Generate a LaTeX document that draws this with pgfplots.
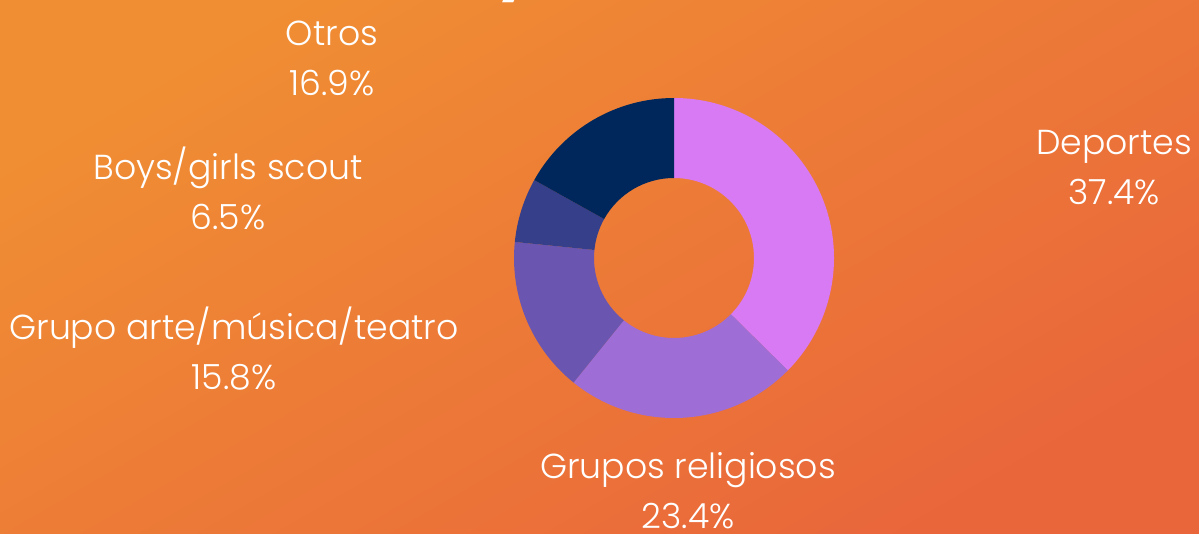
\documentclass[border=0pt]{standalone}
\usepackage{pgfplots}
\pgfplotsset{compat=1.18}
\usepackage{pgfplotstable}
\usepackage{fontspec}
\setmainfont{Poppins Light}[BoldFont=Poppins Bold]

\definecolor{bgA}{HTML}{F08E33}
\definecolor{bgB}{HTML}{E9663B}
\definecolor{c0}{HTML}{D87AF4}
\definecolor{c1}{HTML}{9F6DD6}
\definecolor{c2}{HTML}{6A56B1}
\definecolor{c3}{HTML}{363F8A}
\definecolor{c4}{HTML}{00275B}

% share of each group, clockwise from 12 o'clock
\pgfplotstableread{
group value
Deportes 37.4
Religiosos 23.4
Arte 15.8
Scout 6.5
Otros 16.9
}\donut

\newcommand\lbl{\fontsize{26}{37.5}\selectfont\color{white}}

\begin{document}
\begin{tikzpicture}
% slice angles from the table
\pgfmathsetmacro\cum{0}
\pgfplotsforeachungrouped \i in {0,...,4}{%
  \pgfplotstablegetelem{\i}{value}\of\donut
  \pgfmathsetmacro\sa{90-3.6*\cum}%
  \pgfmathsetmacro\cum{\cum+\pgfplotsretval}%
  \pgfmathsetmacro\ea{90-3.6*\cum}%
  \expandafter\xdef\csname sa\i\endcsname{\sa}%
  \expandafter\xdef\csname ea\i\endcsname{\ea}%
}
\begin{axis}[
  name=ax,
  scale only axis,
  width=899.25pt, height=399.75pt,
  xmin=0, xmax=1199, ymin=0, ymax=533,
  hide axis, clip=false,
]
\shade[top color=bgA, bottom color=bgB, shading angle=30]
  (axis cs:0,0) rectangle (axis cs:1199,533);

\node[anchor=base, white, font=\fontsize{46}{46}\selectfont\bfseries]
  at (axis cs:516,546) {y};

\pgfplotsinvokeforeach{0,...,4}{
  \fill[c#1]
    (axis cs:{674+160*cos(\csname sa#1\endcsname)},{275+160*sin(\csname sa#1\endcsname)})
    arc[start angle=\csname sa#1\endcsname, end angle=\csname ea#1\endcsname, radius=120pt]
    -- (axis cs:{674+80*cos(\csname ea#1\endcsname)},{275+80*sin(\csname ea#1\endcsname)})
    arc[start angle=\csname ea#1\endcsname, end angle=\csname sa#1\endcsname, radius=60pt]
    -- cycle;
}

\node[align=center, inner sep=0pt, font=\lbl] at (axis cs:332,475) {Otros\\16.9\%};
\node[align=center, inner sep=0pt, font=\lbl] at (axis cs:228,345) {Boys/girls scout\\6.5\%};
\node[align=center, inner sep=0pt, font=\lbl] at (axis cs:234,184) {Grupo arte/música/teatro\\15.8\%};
\node[align=center, inner sep=0pt, font=\lbl] at (axis cs:1114,365) {Deportes\\37.4\%};
\node[align=center, inner sep=0pt, font=\lbl] at (axis cs:688,42) {Grupos religiosos\\23.4\%};
\end{axis}
\pgfresetboundingbox
\path (ax.south west) rectangle (ax.north east);
\end{tikzpicture}
\end{document}
